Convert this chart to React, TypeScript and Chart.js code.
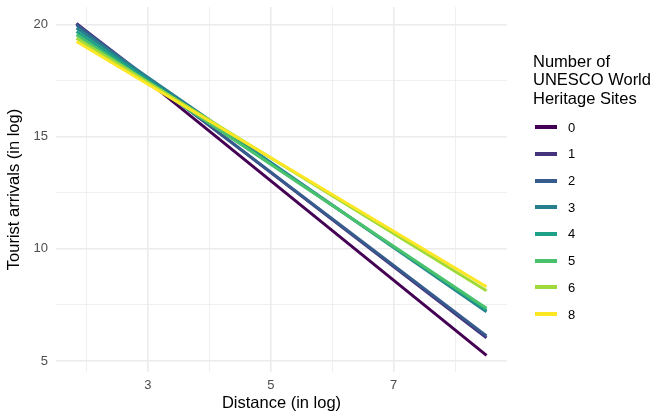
import React, { useEffect, useRef } from "react";
import { Chart, registerables } from "chart.js";

Chart.register(...registerables);

const sites = ["0", "1", "2", "3", "4", "5", "6", "8"];
const distanceRange = [1.84, 8.51];
const arrivalsAtMinDistance = [20.05, 20.05, 20.0, 19.85, 19.7, 19.55, 19.4, 19.25];
const arrivalsAtMaxDistance = [5.25, 6.03, 6.12, 7.2, 7.27, 7.35, 8.13, 8.31];
const colors = ["#440154", "#46337E", "#365C8D", "#277F8E", "#1FA187", "#4AC16D", "#9FDA3A", "#FDE725"];
const xTicks = [2, 3, 4, 5, 6, 7, 8];
const xLabeled = [3, 5, 7];
const yTicks = [5, 7.5, 10, 12.5, 15, 17.5, 20];
const yLabeled = [5, 10, 15, 20];

const FONT = "'Liberation Sans', Arial, sans-serif";

export default function App() {
  const ref = useRef<HTMLCanvasElement | null>(null);
  useEffect(() => {
    const ctx = ref.current!;
    const datasets = sites.map((s, i) => ({
      label: s,
      data: [
        { x: distanceRange[0], y: arrivalsAtMinDistance[i] },
        { x: distanceRange[1], y: arrivalsAtMaxDistance[i] },
      ],
      borderColor: colors[i],
      backgroundColor: colors[i],
      borderWidth: 3,
      pointRadius: 0,
      fill: false,
      tension: 0,
      order: sites.length - i,
    }));
    const xSpan = distanceRange[1] - distanceRange[0];
    const allY = [...arrivalsAtMinDistance, ...arrivalsAtMaxDistance];
    const yMin = Math.min(...allY);
    const yMax = Math.max(...allY);
    const ySpan = yMax - yMin;
    const chart = new Chart(ctx, {
      type: "line",
      data: { datasets },
      options: {
        animation: false,
        responsive: false,
        devicePixelRatio: 1,
        layout: { padding: { top: 7, right: 148, left: 0, bottom: 0 } },
        plugins: { legend: { display: false }, tooltip: { enabled: false } },
        scales: {
          x: {
            type: "linear",
            min: distanceRange[0] - 0.05 * xSpan,
            max: distanceRange[1] + 0.05 * xSpan,
            afterBuildTicks: (s: any) => {
              s.ticks = xTicks.map((v) => ({ value: v }));
            },
            afterFit: (s: any) => {
              s.height = 44;
              s.paddingLeft = 0;
              s.paddingRight = 0;
            },
            ticks: {
              autoSkip: false,
              maxRotation: 0,
              padding: 6,
              color: "#4d4d4d",
              font: { family: FONT, size: 13 },
              callback: (v: any) => (xLabeled.includes(Number(v)) ? String(v) : ""),
            },
            grid: {
              drawTicks: false,
              color: "#ebebeb",
              lineWidth: (c: any) => (xLabeled.includes(c.tick?.value) ? 1.6 : 0.8),
            },
            border: { display: false },
            title: {
              display: true,
              text: "Distance (in log)",
              color: "#000",
              font: { family: FONT, size: 16.5 },
              padding: { top: 0, bottom: 3 },
            },
          },
          y: {
            type: "linear",
            min: yMin - 0.05 * ySpan,
            max: yMax + 0.05 * ySpan,
            afterBuildTicks: (s: any) => {
              s.ticks = yTicks.map((v) => ({ value: v }));
            },
            afterFit: (s: any) => {
              s.width = 56;
              s.paddingTop = 0;
              s.paddingBottom = 0;
            },
            ticks: {
              autoSkip: false,
              padding: 8,
              color: "#4d4d4d",
              font: { family: FONT, size: 13 },
              callback: (v: any) => (yLabeled.includes(Number(v)) ? String(v) : ""),
            },
            grid: {
              drawTicks: false,
              color: "#ebebeb",
              lineWidth: (c: any) => (yLabeled.includes(c.tick?.value) ? 1.6 : 0.8),
            },
            border: { display: false },
            title: {
              display: true,
              text: "Tourist arrivals (in log)",
              color: "#000",
              font: { family: FONT, size: 16.5 },
              padding: { top: 5, bottom: 0 },
            },
          },
        },
      },
    });
    return () => chart.destroy();
  }, []);

  return (
    <div style={{ position: "fixed", left: 0, top: 0, width: 655, height: 416, overflow: "hidden", background: "#fff" }}>
      <canvas ref={ref} width={655} height={416} style={{ position: "absolute", left: 0, top: 0 }} />
      <div style={{ position: "absolute", left: 533, top: 52, fontFamily: FONT, color: "#000", whiteSpace: "nowrap" }}>
        <div style={{ fontSize: 16.5, lineHeight: "18.3px" }}>
          Number of
          <br />
          UNESCO World
          <br />
          Heritage Sites
        </div>
        <div style={{ marginTop: 7 }}>
          {sites.map((s, i) => (
            <div key={s} style={{ display: "flex", alignItems: "center", height: 26.7 }}>
              <div style={{ width: 22, height: 4, background: colors[i], marginLeft: 2 }} />
              <span style={{ marginLeft: 11, fontSize: 13, color: "#000" }}>{s}</span>
            </div>
          ))}
        </div>
      </div>
    </div>
  );
}
